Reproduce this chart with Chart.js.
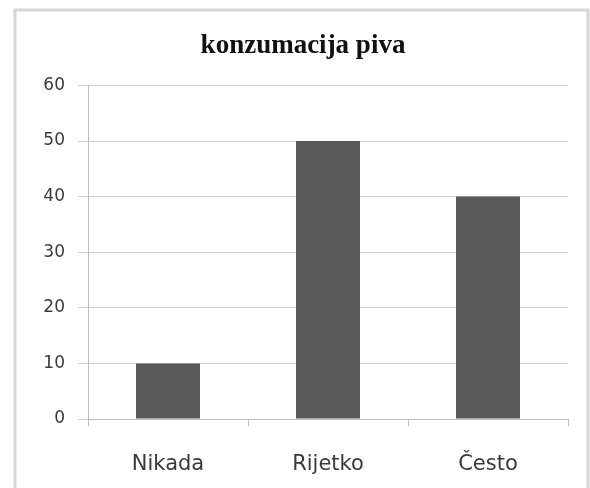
<!DOCTYPE html>
<html>
<head>
<meta charset="utf-8">
<script src="https://cdn.jsdelivr.net/npm/chart.js@4/dist/chart.umd.min.js"></script>
<style>
  html, body { margin: 0; padding: 0; background: #fff; }
  #wrap { width: 590px; height: 488px; }
</style>
</head>
<body>
<div id="wrap"><canvas id="BarChart" width="590" height="488"></canvas></div>
<script>
// konzumacija piva - bar chart
const categories = ["Nikada", "Rijetko", "Često"];
const values = [10, 50, 40];
const yTicks = [0, 10, 20, 30, 40, 50, 60];

// light gray frame like the original spreadsheet chart
const framePlugin = {
  id: "frame",
  beforeDraw(chart) {
    const c = chart.ctx;
    c.save();
    c.strokeStyle = "#d6d6d6";
    c.lineWidth = 3;
    c.beginPath();
    c.moveTo(15, chart.height);
    c.lineTo(15, 10);
    c.lineTo(588, 10);
    c.lineTo(588, chart.height);
    c.stroke();
    c.restore();
  }
};

const ctx = document.getElementById("BarChart").getContext("2d");

new Chart(ctx, {
  type: "bar",
  data: {
    labels: categories,
    datasets: [{
      label: "konzumacija piva",
      data: values,
      backgroundColor: "#595959",
      categoryPercentage: 1,
      barPercentage: 0.4
    }]
  },
  options: {
    responsive: false,
    animation: false,
    // left/right padding chosen so the title centres at ~303 like the original
    layout: { padding: { left: 38, right: 22, top: 0, bottom: 0 } },
    plugins: {
      legend: { display: false },
      tooltip: { enabled: false },
      title: {
        display: true,
        text: "konzumacija piva",
        color: "#111",
        font: { family: "Liberation Serif", size: 27, weight: "bold" },
        padding: { top: 30, bottom: 23 }
      }
    },
    scales: {
      x: {
        offset: true,
        grid: {
          offset: true,
          drawOnChartArea: false,
          drawTicks: true,
          tickLength: 7,
          color: "#bdbdbd"
        },
        border: { color: "#bdbdbd" },
        ticks: {
          color: "#3a3a3a",
          padding: 26,
          font: { family: "DejaVu Sans", size: 21 }
        },
        afterFit(scale) { scale.height = 69; }
      },
      y: {
        min: 0,
        max: 60,
        afterBuildTicks(scale) {
          scale.ticks = yTicks.map(v => ({ value: v }));
        },
        grid: { color: "#cfcfcf", tickLength: 10 },
        border: { color: "#bdbdbd" },
        ticks: {
          color: "#3a3a3a",
          padding: 13,
          font: { family: "DejaVu Sans", size: 17 }
        },
        afterFit(scale) { scale.width = 50; }
      }
    }
  },
  plugins: [framePlugin]
});
</script>
</body>
</html>
